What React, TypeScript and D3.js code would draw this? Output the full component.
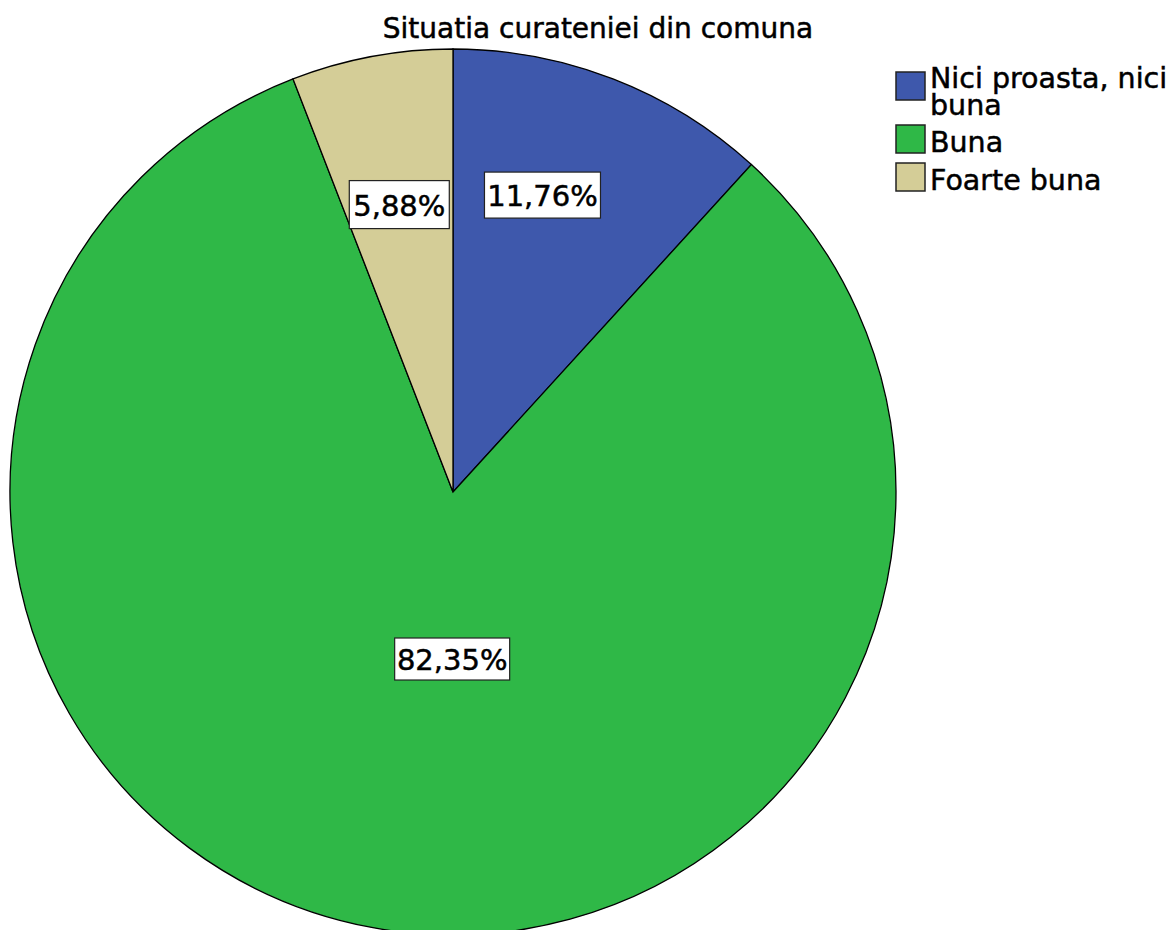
import React from "react";
import * as d3 from "d3";

const categories = ["Nici proasta, nici buna", "Buna", "Foarte buna"];
const values = [11.76, 82.35, 5.88];
const labels = ["11,76%", "82,35%", "5,88%"];
const colors = ["#3e58ac", "#2fb847", "#d4cd97"];
const legendLines = [["Nici proasta, nici", "buna"], ["Buna"], ["Foarte buna"]];

const W = 1175;
const H = 930;
const cx = 453;
const cy = 492;
const R = 443;
const FONT = "'DejaVu Sans', Verdana, sans-serif";

// label placement: fraction of radius and angular shift (degrees) from slice mid-angle
const labelR = [0.70, 0.377, 0.66];
const labelShift = [-4.4, -10.3, 0];
const labelW = [116, 115, 100];
const labelH = [46, 42, 48];

export default function App() {
  const pie = d3.pie<number>().sort(null).value((d) => d)(values);
  const arc = d3.arc<d3.PieArcDatum<number>>().innerRadius(0).outerRadius(R);
  return (
    <svg width={W} height={H} style={{ position: "absolute", left: 0, top: 0 }}>
      <rect width={W} height={H} fill="#ffffff" />
      <text x={598} y={38} textAnchor="middle" fontFamily={FONT} fontSize={28} fill="#000" stroke="#000" strokeWidth={0.5}>
        Situatia curateniei din comuna
      </text>
      <g transform={`translate(${cx},${cy})`}>
        {pie.map((p, i) => (
          <path key={i} d={arc(p) || ""} fill={colors[i]} stroke="#000" strokeWidth={1.3} />
        ))}
        {pie.map((p, i) => {
          const mid = (p.startAngle + p.endAngle) / 2 + (labelShift[i] * Math.PI) / 180;
          const lr = labelR[i] * R;
          const x = Math.sin(mid) * lr;
          const y = -Math.cos(mid) * lr;
          return (
            <g key={"l" + i} transform={`translate(${x},${y})`}>
              <rect x={-labelW[i] / 2} y={-labelH[i] / 2} width={labelW[i]} height={labelH[i]} fill="#fff" stroke="#222" strokeWidth={1.2} />
              <text x={0} y={11} textAnchor="middle" fontFamily={FONT} fontSize={29} fill="#000" stroke="#000" strokeWidth={0.5}>
                {labels[i]}
              </text>
            </g>
          );
        })}
      </g>
      <g>
        {categories.map((c, i) => {
          const ys = [72, 125, 163][i];
          const tys = [88, 152, 190][i];
          return (
            <g key={"lg" + i}>
              <rect x={896} y={ys} width={29} height={28} fill={colors[i]} stroke="#222" strokeWidth={1.5} />
              {legendLines[i].map((t, j) => (
                <text key={j} x={930} y={tys + j * 27} fontFamily={FONT} fontSize={28.5} fill="#000" stroke="#000" strokeWidth={0.5}>
                  {t}
                </text>
              ))}
            </g>
          );
        })}
      </g>
    </svg>
  );
}
